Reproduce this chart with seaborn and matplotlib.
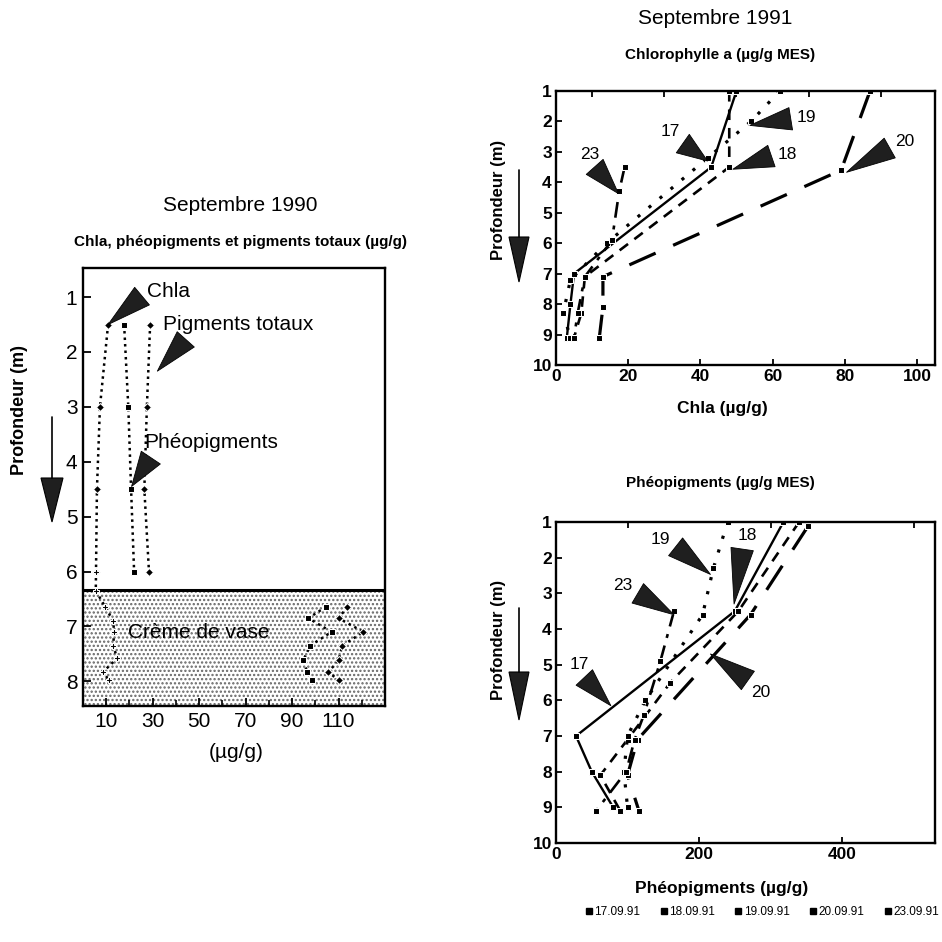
import matplotlib
matplotlib.use("Agg")
import matplotlib.pyplot as plt
from matplotlib.patches import Polygon
from matplotlib.lines import Line2D
from matplotlib.ticker import MultipleLocator, FixedLocator
import seaborn as sns

sns.set_theme(style="white")
plt.rcParams['font.family'] = ['Liberation Sans', 'DejaVu Sans']
plt.rcParams['text.color'] = 'black'
plt.rcParams['xtick.color'] = 'black'
plt.rcParams['ytick.color'] = 'black'
plt.rcParams['axes.labelcolor'] = 'black'
plt.rcParams['hatch.linewidth'] = 1.1
plt.rcParams['hatch.color'] = '0.4'

# ---- Septembre 1990 : water column ----
depth_1990 = [1.5, 3.0, 4.5, 6.0]
chla_1990 = [10.8, 7.3, 6.0, 5.6]
pheo_1990 = [17.7, 19.5, 20.7, 22.0]
total_1990 = [28.9, 27.5, 26.4, 28.4]

# ---- Septembre 1990 : crème de vase ----
depth_vase_chla = [6.0, 6.35, 6.64, 6.9, 7.1, 7.35, 7.58, 7.83, 7.98]
chla_vase = [5.6, 5.5, 9.5, 13.0, 13.4, 13.0, 14.7, 8.6, 11.2]
depth_vase = [6.64, 6.85, 7.1, 7.35, 7.62, 7.83, 7.98]
pheo_vase = [104.7, 97.0, 107.0, 97.8, 94.8, 96.5, 98.7]
total_vase = [113.8, 110.0, 120.7, 111.6, 110.0, 105.6, 110.0]

# ---- Septembre 1991 : chlorophylle a ----
dates = ["17.09.91", "18.09.91", "19.09.91", "20.09.91", "23.09.91"]
chla_depth = {
    "17": [1.0, 3.5, 7.0, 8.0, 9.1],
    "18": [1.0, 3.5, 7.1, 8.3, 9.1],
    "19": [1.0, 2.0, 3.2, 6.0, 7.2, 8.3, 9.1],
    "20": [1.0, 3.6, 7.1, 8.1, 9.1],
    "23": [3.5, 4.3, 5.9, 7.1, 8.3, 9.1],
}
chla_vals = {
    "17": [50, 43, 5, 4, 3],
    "18": [48, 48, 8, 7, 5],
    "19": [62, 54, 42, 14, 4, 2, 4],
    "20": [87, 79, 13, 13, 12],
    "23": [19, 17.5, 15.5, 8, 6, 5],
}

# ---- Septembre 1991 : phéopigments ----
pheo_depth = {
    "17": [1.0, 3.5, 7.0, 8.0, 9.0],
    "18": [1.0, 3.5, 5.5, 7.1, 8.1, 9.1],
    "19": [1.0, 2.3, 3.6, 6.0, 7.0, 8.0, 9.0],
    "20": [1.1, 3.6, 7.1, 8.1, 9.1],
    "23": [3.5, 4.9, 6.4, 7.1, 8.0, 9.1],
}
pheo_vals = {
    "17": [318, 250, 28, 50, 80],
    "18": [340, 255, 160, 100, 62, 90],
    "19": [240, 220, 205, 125, 100, 95, 100],
    "20": [353, 272, 114, 100, 116],
    "23": [165, 146, 123, 110, 98, 56],
}

styles = {
    "17": dict(linestyle="-", linewidth=1.7),
    "18": dict(linestyle=(0, (4, 3)), linewidth=1.9),
    "19": dict(linestyle=(0, (1, 3.5)), linewidth=2.3),
    "20": dict(linestyle=(0, (9, 6)), linewidth=2.3),
    "23": dict(linestyle=(0, (6, 3, 1.5, 3)), linewidth=1.9),
}

W = 942.0


def fx(px):
    return px / W


def fy(py):
    return 1 - py / W


fig = plt.figure(figsize=(9.42, 9.42), dpi=100)
fig.patch.set_facecolor("white")


def profile(ax, x, y, **kw):
    sns.lineplot(x=x, y=y, ax=ax, sort=False, estimator=None, orient="y",
                 color="black", legend=False, **kw)


def pointer(ax, label, xy, xytext, fs, relpos=(0.5, 0.5), tw=1.3):
    ax.annotate(label, xy=xy, xytext=xytext, textcoords="data", fontsize=fs,
                ha="center", va="center", annotation_clip=False,
                arrowprops=dict(arrowstyle=f"wedge,tail_width={tw},shrink_factor=0.5",
                                fc="0.12", ec="black", lw=0.6, relpos=relpos,
                                shrinkA=2, shrinkB=0))


def style_box(ax, lw=1.7):
    for s in ax.spines.values():
        s.set_color("black")
        s.set_linewidth(lw)
        s.set_visible(True)


def down_arrow(x, y0, y1, y2, half=10):
    fig.add_artist(Line2D([fx(x), fx(x)], [fy(y0), fy(y1)], color="black",
                          lw=1.2, transform=fig.transFigure))
    fig.add_artist(Polygon([[fx(x - half), fy(y1)], [fx(x + half), fy(y1)], [fx(x), fy(y2)]],
                           closed=True, fc="0.12", ec="black", lw=0.8,
                           transform=fig.transFigure))


# ================= Left panel : Septembre 1990 =================
axL = fig.add_axes([fx(83), fy(706), fx(385) - fx(83), fy(268) - fy(706)])
style_box(axL)
axL.set_xlim(0, 130)
axL.set_ylim(8.45, 0.47)
axL.axhspan(6.33, 8.45, facecolor="white", hatch="....", edgecolor="0.4", linewidth=0, zorder=0)
axL.axhline(6.33, color="black", lw=2.2, zorder=1)

dot = (0, (1, 1.6))
profile(axL, chla_1990, depth_1990, linestyle=dot, linewidth=1.8, marker="D", markersize=4)
profile(axL, pheo_1990, depth_1990, linestyle=dot, linewidth=1.8, marker="s", markersize=4.5)
profile(axL, total_1990, depth_1990, linestyle=dot, linewidth=1.8, marker="D", markersize=4)
profile(axL, chla_vase, depth_vase_chla, linestyle=dot, linewidth=1.8, marker="P", markersize=4.5)
profile(axL, pheo_vase, depth_vase, linestyle=dot, linewidth=1.8, marker="s", markersize=4)
profile(axL, total_vase, depth_vase, linestyle=dot, linewidth=1.8, marker="D", markersize=4)

axL.set_xticks([10, 30, 50, 70, 90, 110])
axL.xaxis.set_minor_locator(FixedLocator([20, 40, 60, 80, 100, 120]))
axL.set_yticks(range(1, 9))
axL.tick_params(axis="both", which="major", direction="in", length=6, width=1.3,
                labelsize=15, colors="black", left=True, bottom=True, pad=4)
axL.tick_params(axis="x", which="minor", direction="in", length=4, width=1.2, bottom=True)
axL.set_xlabel("")
axL.set_ylabel("")

axL.text(50, 7.12, "Crème de vase", fontsize=15, ha="center", va="center", color="black")
pointer(axL, "Chla", (10.8, 1.5), (37, 0.9), 15, relpos=(0.0, 0.5), tw=1.1)
pointer(axL, "Pigments totaux", (32, 2.35), (67, 1.5), 15, relpos=(0.18, 0.0), tw=1.1)
pointer(axL, "Phéopigments", (20.9, 4.45), (55, 3.65), 15, relpos=(0.08, 0.0), tw=1.1)

fig.text(fx(240), fy(205), "Septembre 1990", fontsize=15, ha="center", va="center")
fig.text(fx(240), fy(242), "Chla, phéopigments et pigments totaux (µg/g)", fontsize=11,
         fontweight="bold", ha="center", va="center")
fig.text(fx(236), fy(752), "(µg/g)", fontsize=15, ha="center", va="center")
fig.text(fx(20), fy(410), "Profondeur (m)", fontsize=13, fontweight="bold",
         rotation=90, ha="center", va="center")
down_arrow(52, 417, 478, 522, half=11)

# ================= Top right : Chlorophylle a =================
axT = fig.add_axes([fx(556), fy(365), fx(935) - fx(556), fy(91) - fy(365)])
style_box(axT)
for k in chla_depth:
    profile(axT, chla_vals[k], chla_depth[k], marker="s", markersize=4, **styles[k])
axT.set_xlim(0, 105)
axT.set_ylim(10, 1)
axT.set_xticks([0, 20, 40, 60, 80, 100])
axT.xaxis.set_minor_locator(MultipleLocator(10))
axT.set_yticks(range(1, 11))
axT.tick_params(axis="both", which="major", direction="in", length=4, width=1.3,
                labelsize=12.5, colors="black", left=True, bottom=True, pad=3)
axT.tick_params(axis="x", which="minor", direction="in", length=4, width=1.3,
                top=True, bottom=False)
for lbl in axT.get_xticklabels() + axT.get_yticklabels():
    lbl.set_fontweight("bold")
axT.set_xlabel("")
axT.set_ylabel("")

pointer(axT, "19", (53.7, 2.13), (69.4, 1.88), 12.5, relpos=(0.0, 0.5))
pointer(axT, "18", (49, 3.57), (64, 3.07), 12.5, relpos=(0.0, 0.5))
pointer(axT, "17", (42, 3.3), (31.6, 2.32), 12.5, relpos=(0.8, 0.0))
pointer(axT, "23", (17.3, 4.37), (9.4, 3.07), 12.5, relpos=(0.5, 0.0))
pointer(axT, "20", (80.5, 3.67), (96.7, 2.67), 12.5, relpos=(0.0, 0.3))

fig.text(fx(715), fy(18), "Septembre 1991", fontsize=15, ha="center", va="center")
fig.text(fx(720), fy(55), "Chlorophylle a (µg/g MES)", fontsize=11, fontweight="bold",
         ha="center", va="center")
fig.text(fx(722), fy(408), "Chla (µg/g)", fontsize=12.5, fontweight="bold",
         ha="center", va="center")
fig.text(fx(499), fy(200), "Profondeur (m)", fontsize=12, fontweight="bold",
         rotation=90, ha="center", va="center")
down_arrow(519, 170, 237, 282, half=10)

# ================= Bottom right : Phéopigments =================
axB = fig.add_axes([fx(556), fy(843), fx(935) - fx(556), fy(522) - fy(843)])
style_box(axB)
for k in pheo_depth:
    profile(axB, pheo_vals[k], pheo_depth[k], marker="s", markersize=4, **styles[k])
axB.set_xlim(0, 530)
axB.set_ylim(10, 1)
axB.set_xticks([0, 200, 400])
axB.xaxis.set_minor_locator(MultipleLocator(100))
axB.set_yticks(range(1, 11))
axB.tick_params(axis="both", which="major", direction="in", length=4, width=1.3,
                labelsize=12.5, colors="black", left=True, bottom=True, pad=3)
axB.tick_params(axis="x", which="minor", direction="in", length=4, width=1.3,
                top=True, bottom=False)
for lbl in axB.get_xticklabels() + axB.get_yticklabels():
    lbl.set_fontweight("bold")
axB.set_xlabel("")
axB.set_ylabel("")

pointer(axB, "19", (216, 2.47), (146, 1.49), 12.5, relpos=(1.0, 0.3))
pointer(axB, "18", (249, 3.3), (267, 1.38), 12.5, relpos=(0.3, 0.0))
pointer(axB, "23", (165, 3.6), (93, 2.78), 12.5, relpos=(1.0, 0.2))
pointer(axB, "17", (76.7, 6.15), (32.6, 5.0), 12.5, relpos=(0.5, 0.0))
pointer(axB, "20", (216, 4.7), (286, 5.79), 12.5, relpos=(0.2, 1.0))

fig.text(fx(720), fy(483), "Phéopigments (µg/g MES)", fontsize=11, fontweight="bold",
         ha="center", va="center")
fig.text(fx(722), fy(888), "Phéopigments (µg/g)", fontsize=12.5, fontweight="bold",
         ha="center", va="center")
fig.text(fx(499), fy(640), "Profondeur (m)", fontsize=12, fontweight="bold",
         rotation=90, ha="center", va="center")
down_arrow(519, 608, 672, 720, half=10)

# ---- legend of sampling dates ----
handles = [Line2D([], [], marker="s", color="black", linestyle="None", markersize=4.5)
           for _ in dates]
fig.legend(handles, dates, loc="center", bbox_to_anchor=(fx(762), fy(912)), ncol=5,
           frameon=False, fontsize=8.5, handlelength=0.6, handletextpad=0.15,
           columnspacing=1.7, borderpad=0)

fig.savefig("out.png", dpi=100, facecolor="white")
